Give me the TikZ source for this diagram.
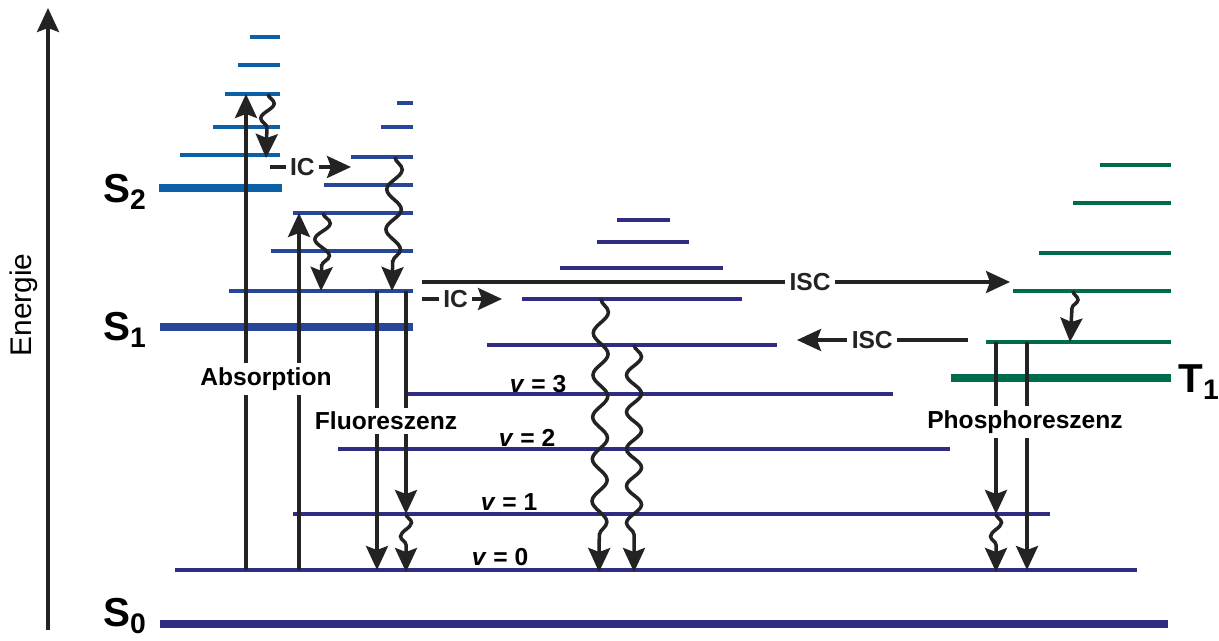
\documentclass[tikz,border=0pt]{standalone}
\usepackage{fontspec}
\setmainfont{Liberation Sans}
\usetikzlibrary{arrows.meta,decorations.pathmorphing}
\definecolor{szero}{RGB}{46,45,130}
\definecolor{sone}{RGB}{40,70,152}
\definecolor{stwo}{RGB}{12,96,168}
\definecolor{tone}{RGB}{0,108,78}
\definecolor{pfeil}{RGB}{35,35,35}
\begin{document}
\begin{tikzpicture}[x=0.02cm,y=-0.02cm,
 lvl/.style={line width=2.1pt},
 grund/.style={line width=4.6pt},
 pf/.style={pfeil,line width=2pt,-{Stealth[length=4.8mm,width=4.4mm,inset=0.8mm]}},
 welle/.style={pf,decorate,decoration={snake,amplitude=1.5mm,segment length=7.5mm,post length=5mm}},
 lab/.style={font=\bfseries\fontsize{14}{16}\selectfont,fill=white,inner sep=2.5pt},
 vlab/.style={font=\bfseries\fontsize{14}{16}\selectfont,inner sep=0pt},
 zust/.style={font=\bfseries\fontsize{23}{25}\selectfont,inner sep=0pt}]
\useasboundingbox[fill=white] (0,0) rectangle (1219,641);

% Energieachse
\coordinate (E0) at (48,630);
\coordinate (E1) at (48,8);
\draw[pf] (E0) -- (E1);
\node (En) at (24,305) [rotate=90,font=\fontsize{17}{19}\selectfont] {Energie};

% Niveaus
\foreach \ya/\xa/\xb in {570/175/1137,514/293/1050,449/338/950,394/405/893,345/487/777,
 299/522/742,268/560/723,242/597/689,220/617/670}
 \draw[lvl,szero] (\xa,\ya) -- (\xb,\ya);
\draw[grund,szero] (160,624) -- (1168,624);
\foreach \ya/\xa in {291/229,251/271,213/293,185/324,157/351,127/381,103/397}
 \draw[lvl,sone] (\xa,\ya) -- (413,\ya);
\draw[grund,sone] (160,327) -- (413,327);
\foreach \ya/\xa in {155/180,127/213,94/225,65/238,37/250}
 \draw[lvl,stwo] (\xa,\ya) -- (280,\ya);
\draw[grund,stwo] (159,188) -- (282,188);
\foreach \ya/\xa in {342/986,291/1013,253/1039,203/1073,165/1100}
 \draw[lvl,tone] (\xa,\ya) -- (1171,\ya);
\draw[grund,tone] (951,378) -- (1171,378);

\node (S2) at (125,192) [zust] {S\textsubscript{2}};
\node (S1) at (125,330) [zust] {S\textsubscript{1}};
\node (S0) at (125,616) [zust] {S\textsubscript{0}};
\node (T1) at (1178,382) [zust,anchor=west] {T\textsubscript{1}};

\node (v3) at (538,384) [vlab] {\textit{v} = 3};
\node (v2) at (527,438) [vlab] {\textit{v} = 2};
\node (v1) at (509,502) [vlab] {\textit{v} = 1};
\node (v0) at (500,557) [vlab] {\textit{v} = 0};

% Absorption
\coordinate (A1) at (246,570);
\coordinate (A2) at (246,94);
\coordinate (B1) at (299,570);
\coordinate (B2) at (299,213);
\draw[pf] (A1) -- (A2);
\draw[pf] (B1) -- (B2);
\node (Abs) at (266,379) [lab] {Absorption};

% Fluoreszenz
\coordinate (F1) at (377,291);
\coordinate (F2) at (377,570);
\coordinate (G1) at (406,291);
\coordinate (G2) at (406,514);
\coordinate (G3) at (406,572);
\draw[pf] (F1) -- (F2);
\draw[pf] (G1) -- (G2);
\draw[welle,decoration={segment length=5.5mm,amplitude=1.1mm}] (G2) -- (G3);
\node (Fl) at (386,421) [lab] {Fluoreszenz};

% Phosphoreszenz
\coordinate (P1) at (996,342);
\coordinate (P2) at (996,514);
\coordinate (P3) at (996,572);
\coordinate (Q1) at (1027,342);
\coordinate (Q2) at (1027,570);
\draw[pf] (P1) -- (P2);
\draw[pf] (Q1) -- (Q2);
\draw[welle,decoration={segment length=5.5mm,amplitude=1.1mm}] (P2) -- (P3);
\node (Ph) at (1025,422) [lab] {Phosphoreszenz};

% Schwingungsrelaxation
\coordinate (W1) at (268,94);
\coordinate (W2) at (266,158);
\coordinate (W3) at (323,213);
\coordinate (W4) at (321,291);
\coordinate (W5) at (395,157);
\coordinate (W6) at (392,291);
\coordinate (W7) at (1073,291);
\coordinate (W8) at (1070,342);
\coordinate (W9) at (601,299);
\coordinate (W10) at (599,572);
\coordinate (W11) at (634,345);
\coordinate (W12) at (634,572);
\draw[welle,decoration={segment length=6mm,amplitude=1.3mm}] (W1) -- (W2);
\draw[welle,decoration={segment length=6.5mm}] (W3) -- (W4);
\draw[welle,decoration={segment length=8mm}] (W5) -- (W6);
\draw[welle,decoration={segment length=5.5mm,amplitude=1.1mm}] (W7) -- (W8);
\draw[welle,decoration={segment length=8.4mm}] (W9) -- (W10);
\draw[welle,decoration={segment length=7.4mm}] (W11) -- (W12);

% IC und ISC
\coordinate (I1) at (270,167);
\coordinate (I2) at (351,167);
\coordinate (I3) at (422,299);
\coordinate (I4) at (502,299);
\coordinate (J1) at (422,282);
\coordinate (J2) at (1010,282);
\coordinate (J3) at (968,340);
\coordinate (J4) at (797,340);
\draw[pf] (I1) -- (I2) node [lab,pos=0.4] {IC};
\draw[pf] (I3) -- (I4) node [lab,pos=0.42] {IC};
\draw[pf] (J1) -- (J2) node [lab,pos=0.66] {ISC};
\draw[pf] (J3) -- (J4) node [lab,pos=0.56] {ISC};
\end{tikzpicture}
\end{document}
